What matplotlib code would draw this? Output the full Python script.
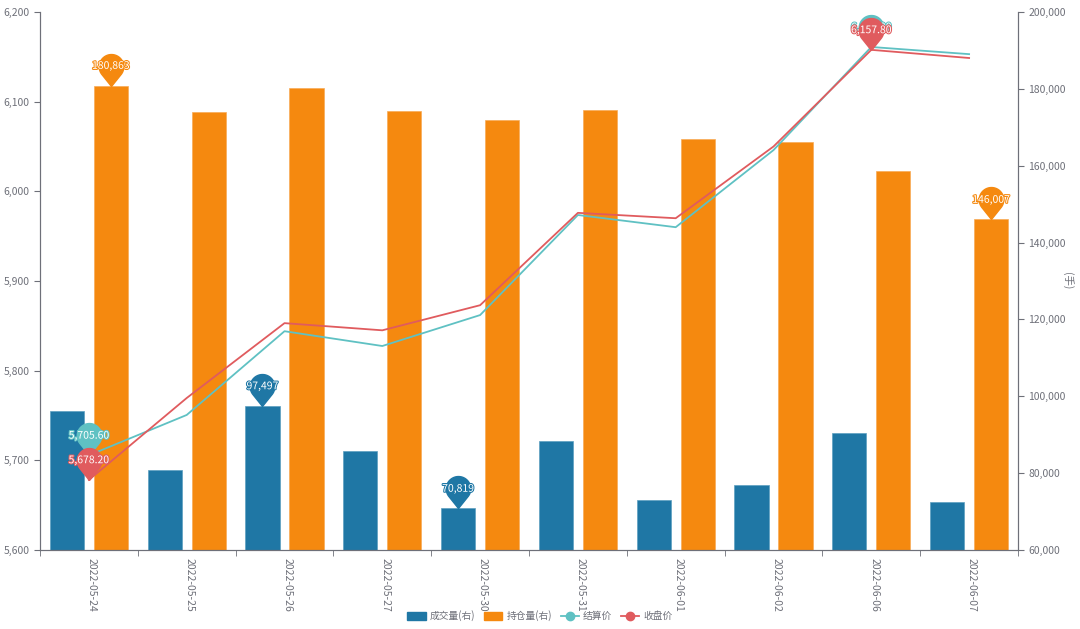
import numpy as np
import matplotlib.pyplot as plt
from matplotlib.path import Path
from matplotlib.lines import Line2D
import matplotlib.patheffects as pe

plt.rcParams['font.family'] = ['Noto Sans CJK SC', 'DejaVu Sans']

dates = ['2022-05-24', '2022-05-25', '2022-05-26', '2022-05-27', '2022-05-30',
         '2022-05-31', '2022-06-01', '2022-06-02', '2022-06-06', '2022-06-07']
volume = [96100, 80800, 97497, 85800, 70819, 88400, 73000, 76900, 90400, 72500]
open_int = [180863, 174000, 180300, 174200, 171900, 174400, 167000, 166200, 158600, 146007]
settle = [5705.6, 5750.6, 5844.0, 5827.5, 5862.0, 5973.6, 5960.0, 6046.0, 6161.0, 6153.0]
close = [5678.2, 5769.5, 5853.0, 5845.0, 5873.0, 5976.0, 5970.0, 6050.0, 6157.8, 6148.7]

c_blue = '#1f77a5'
c_orange = '#f5890f'
c_teal = '#5fc1c3'
c_red = '#e05b5e'
c_axis = '#6e7079'

# pin marker: tip at origin, round head above
ang = np.linspace(np.radians(-38), np.radians(218), 60)
verts = [(0, 0)] + [(np.cos(a), 1.6 + np.sin(a)) for a in ang] + [(0, 0)]
pin = Path(verts)
PIN_MS = 46

fig = plt.figure(figsize=(10.8, 6.29), dpi=100)
ax = fig.add_axes([40 / 1080, 79 / 629, 978 / 1080, 538 / 629])
axl = ax.twinx()

x = np.arange(len(dates))
ax.bar(x - 0.225, volume, width=0.35, color=c_blue, edgecolor='#5d9fc0', linewidth=0.5, zorder=2)
ax.bar(x + 0.225, open_int, width=0.35, color=c_orange, edgecolor='#f8ac58', linewidth=0.5, zorder=2)
ax.set_ylim(60000, 200000)
ax.set_yticks(range(60000, 200001, 20000))
ax.set_yticklabels([f'{v:,}' for v in range(60000, 200001, 20000)])
ax.yaxis.tick_right()
ax.set_ylabel('(手)', rotation=270, fontsize=7.5, color=c_axis, va='center')
ax.yaxis.set_label_coords(1.051, 0.5)

axl.plot(x, settle, color=c_teal, lw=1.3, zorder=3)
axl.plot(x, close, color=c_red, lw=1.3, zorder=3)
axl.set_ylim(5600, 6200)
axl.set_yticks(range(5600, 6201, 100))
axl.set_yticklabels([f'{v:,}' for v in range(5600, 6201, 100)])
axl.yaxis.tick_left()

ax.set_xlim(-0.5, len(dates) - 0.5)
ax.set_xticks(x + 0.03)
ax.set_xticklabels(dates, rotation=-90, fontsize=7.5, color=c_axis)
ax.tick_params(axis='x', length=0, pad=6)
ax.set_xticks(np.arange(-0.5, len(dates), 1), minor=True)
ax.tick_params(axis='x', which='minor', length=4, color=c_axis)

for a in (ax, axl):
    a.spines['top'].set_visible(False)
    for s in ('left', 'right', 'bottom'):
        a.spines[s].set_color(c_axis)
    a.tick_params(axis='y', labelsize=7.5, labelcolor=c_axis, color=c_axis, length=4)

z = [6]


def put_pin(a, xi, yv, color, label, size=PIN_MS):
    a.plot([xi], [yv], marker=pin, ms=size, color=color, mec=color, ls='none', zorder=z[0], clip_on=False)
    a.annotate(label, (xi, yv), xytext=(0, 0.3077 * size), textcoords='offset points',
               ha='center', va='center', fontsize=7.5, color='white', zorder=z[0] + 1,
               path_effects=[pe.withStroke(linewidth=1.5, foreground=color)])
    z[0] += 2


def mark_extremes(a, xs, vals, color, fmt):
    i_max = int(np.argmax(vals))
    i_min = int(np.argmin(vals))
    put_pin(a, xs[i_max], vals[i_max], color, fmt(vals[i_max]))
    put_pin(a, xs[i_min], vals[i_min], color, fmt(vals[i_min]))


mark_extremes(ax, x - 0.225, volume, c_blue, lambda v: f'{v:,}')
mark_extremes(ax, x + 0.225, open_int, c_orange, lambda v: f'{v:,}')
mark_extremes(axl, x, settle, c_teal, lambda v: f'{v:,.2f}')
mark_extremes(axl, x, close, c_red, lambda v: f'{v:,.2f}')

handles = [
    plt.Rectangle((0, 0), 1, 1, color=c_blue),
    plt.Rectangle((0, 0), 1, 1, color=c_orange),
    Line2D([], [], color=c_teal, marker='o', ms=6, lw=1.3),
    Line2D([], [], color=c_red, marker='o', ms=6, lw=1.3),
]
fig.legend(handles, ['成交量(右)', '持仓量(右)', '结算价', '收盘价'], loc='center',
           bbox_to_anchor=(0.5, 13 / 629), ncol=4, frameon=False, fontsize=7,
           handlelength=1.9, handleheight=1.0, columnspacing=0.9, handletextpad=0.4,
           labelcolor=c_axis)

fig.savefig('out.png', dpi=100)
